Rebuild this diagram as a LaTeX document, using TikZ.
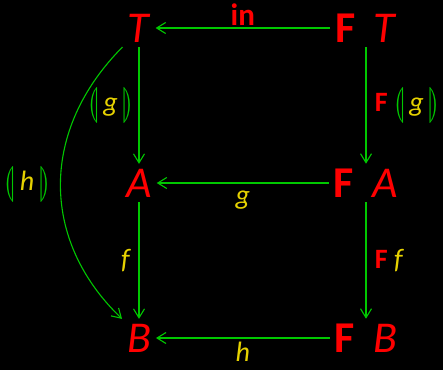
\documentclass[tikz,border=0pt]{standalone}
\usepackage{fontspec}
\usepackage{stmaryrd}
\usepackage{graphicx}
\setmainfont{Carlito}
\usetikzlibrary{arrows.meta}
\definecolor{fgred}{RGB}{255,0,0}
\definecolor{fggreen}{RGB}{0,200,0}
\definecolor{fgyellow}{RGB}{230,210,0}
\newcommand{\Fun}{\textcolor{fgred}{\textbf{F}}}
\newcommand{\banL}{\textcolor{fggreen}{\raisebox{-0.2ex}{\scalebox{1.1}[1.45]{$\llparenthesis$}}}}
\newcommand{\banR}{\textcolor{fggreen}{\raisebox{-0.2ex}{\scalebox{1.1}[1.45]{$\rrparenthesis$}}}}
\newcommand{\cata}[1]{\banL\,\textcolor{fgyellow}{\textit{#1}}\,\banR}

\begin{document}
\begin{tikzpicture}[x=1pt, y=-1pt, >={Straight Barb[length=9pt,width=11pt]},
    obj/.style={text=fgred, font=\fontsize{44}{44}\selectfont, inner sep=2pt, outer sep=3pt},
    lbl/.style={text=fgyellow, font=\fontsize{28}{28}\selectfont},
    mor/.style={->, draw=fggreen, line width=1.1pt}]
    % fond
    \fill[black] (0,0) rectangle (443,370);
    
    % les objets
    \node[obj] (T)  at (139,28)  {\textit{T}};
    \node[obj] (FT) at (366,28)  {\textbf{F}\hspace{0.42em}\textit{T}};
    \node[obj] (A)  at (139,183) {\textit{A}};
    \node[obj] (FA) at (366,183) {\textbf{F}\hspace{0.42em}\textit{A}};
    \node[obj] (B)  at (139,338) {\textit{B}};
    \node[obj] (FB) at (366,338) {\textbf{F}\hspace{0.42em}\textit{B}};
    
    % les fleches
    \draw[mor] (FT) -- node[lbl, above, yshift=-1pt, text=fgred, font=\fontsize{31}{31}\selectfont] (in) {\textbf{in}} (T);
    \draw[mor] (T) -- node[lbl, left, xshift=-2pt] (cg) {\cata{g}} (A);
    \draw[mor] (FT) -- node[lbl, right, xshift=5pt] (Fcg) {\Fun\ \cata{g}} (FA);
    \draw[mor] (FA) -- node[lbl, below, yshift=-4pt] (g) {\textit{g}} (A);
    \draw[mor] (A) -- node[lbl, left, xshift=-4pt] (f) {\textit{f}} (B);
    \draw[mor] (FA) -- node[lbl, right, xshift=5pt] (Ff) {\Fun\ \textit{f}} (FB);
    \draw[mor] (FB) -- node[lbl, below] (h) {\textit{h}} (B);
    
    % le catamorphisme
    \draw[mor] (T.south west) .. controls (40,130) and (40,240) .. node[lbl, left, xshift=-7pt] (ch) {\cata{h}} (B.north west);
\end{tikzpicture}
\end{document}
